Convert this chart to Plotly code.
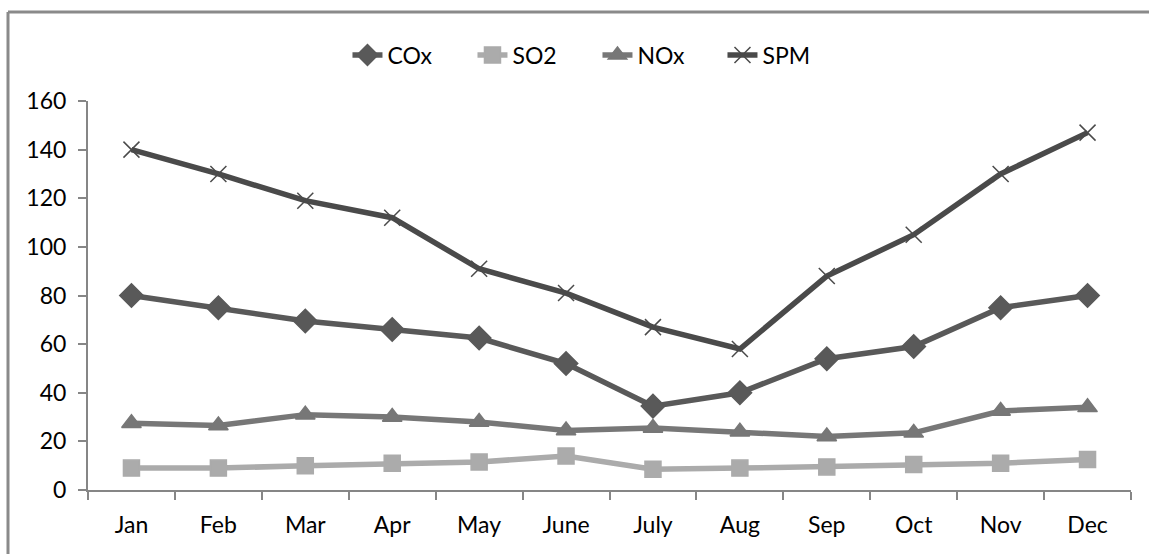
import plotly.graph_objects as go

months = ["Jan", "Feb", "Mar", "Apr", "May", "June", "July", "Aug", "Sep", "Oct", "Nov", "Dec"]
cox = [80, 75, 69.5, 66, 62.5, 52, 34.5, 40, 54, 59, 75, 80]
so2 = [9, 9, 10, 11, 11.5, 14, 8.5, 9, 9.5, 10.5, 11, 12.5]
nox = [27.5, 26.5, 31, 30, 28, 24.5, 25.5, 24, 22, 23.5, 32.5, 34]
spm = [140, 130, 119, 112, 91, 81, 67, 58, 88, 105, 130, 147]
y_ticks = [0, 20, 40, 60, 80, 100, 120, 140, 160]

series = [
    ("COx", cox, "#595959", "diamond", 18),
    ("SO2", so2, "#ababab", "square", 16),
    ("NOx", nox, "#777777", "triangle-up", 17),
    ("SPM", spm, "#4a4a4a", "x-thin-open", 16),
]

fig = go.Figure()
for name, vals, color, sym, size in series:
    fig.add_trace(go.Scatter(
        x=months, y=vals, name=name, mode="lines+markers",
        line=dict(color=color, width=5.5),
        marker=dict(symbol=sym, size=size, color=color,
                    line=dict(color=color, width=1.5)),
    ))

font = "Lato, 'Open Sans', sans-serif"
fig.update_layout(
    width=1149, height=554,
    margin=dict(l=88, r=18, t=101, b=64, autoexpand=False),
    paper_bgcolor="white", plot_bgcolor="white",
    font=dict(family=font, size=23, color="black"),
    showlegend=True,
    legend=dict(orientation="h", xref="container", yref="container",
                x=0.52, xanchor="center", y=1 - 55 / 554, yanchor="middle",
                bgcolor="rgba(0,0,0,0)", font=dict(size=23), tracegroupgap=0,
                entrywidth=80, entrywidthmode="pixels"),
    xaxis=dict(type="category", range=[-0.5, 11.5], showline=True, linecolor="#868686",
               linewidth=2, ticks="outside", tickson="boundaries", ticklen=8,
               tickcolor="#868686", tickwidth=2, showgrid=False, zeroline=False,
               ticklabelstandoff=13),
    yaxis=dict(range=[0, 160], tickvals=y_ticks, showline=True, linecolor="#868686",
               linewidth=2, ticks="outside", ticklen=8, tickcolor="#868686", tickwidth=2,
               showgrid=False, zeroline=False, ticklabelstandoff=7),
    shapes=[
        dict(type="line", xref="paper", yref="paper", x0=-0.0767, x1=1.2, y0=1.229, y1=1.229,
             line=dict(color="#8a8a8a", width=3)),
        dict(type="line", xref="paper", yref="paper", x0=-0.0767, x1=-0.0767, y0=1.229, y1=-0.3,
             line=dict(color="#8a8a8a", width=3)),
    ],
)

fig.write_html("out.html")
